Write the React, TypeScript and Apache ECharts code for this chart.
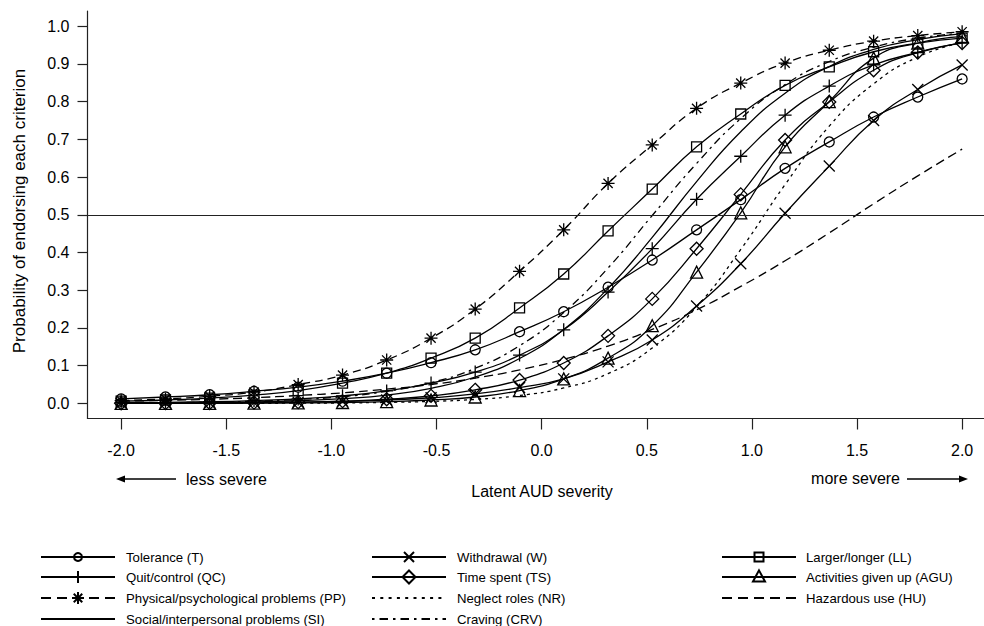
import React, { useEffect, useRef } from "react";
import * as echarts from "echarts";

// ---------- data ----------
const xs = [-2.0, -1.789, -1.579, -1.368, -1.158, -0.947, -0.737, -0.526, -0.316, -0.105, 0.105, 0.316, 0.526, 0.737, 0.947, 1.158, 1.368, 1.579, 1.789, 2.0];
const xTicks = [-2, -1.5, -1, -0.5, 0, 0.5, 1, 1.5, 2];
const yTicks = [0, 0.1, 0.2, 0.3, 0.4, 0.5, 0.6, 0.7, 0.8, 0.9, 1.0];

const tolerance = [0.012, 0.017, 0.023, 0.032, 0.043, 0.059, 0.08, 0.108, 0.142, 0.19, 0.243, 0.308, 0.38, 0.46, 0.54, 0.623, 0.693, 0.759, 0.812, 0.86];
const withdrawal = [0.0005, 0.001, 0.001, 0.002, 0.003, 0.005, 0.009, 0.015, 0.025, 0.042, 0.065, 0.11, 0.168, 0.258, 0.37, 0.504, 0.629, 0.75, 0.832, 0.897];
const largerLonger = [0.006, 0.009, 0.014, 0.022, 0.034, 0.054, 0.08, 0.12, 0.173, 0.253, 0.343, 0.457, 0.568, 0.68, 0.767, 0.843, 0.892, 0.932, 0.955, 0.968];
const quitControl = [0.002, 0.003, 0.0045, 0.0075, 0.012, 0.02, 0.033, 0.054, 0.083, 0.128, 0.195, 0.295, 0.41, 0.541, 0.655, 0.764, 0.841, 0.897, 0.93, 0.957];
const timeSpent = [0.0003, 0.0006, 0.001, 0.002, 0.0034, 0.006, 0.011, 0.02, 0.036, 0.062, 0.107, 0.179, 0.277, 0.41, 0.554, 0.698, 0.799, 0.883, 0.93, 0.955];
const activitiesGivenUp = [0.0001, 0.0002, 0.0003, 0.0006, 0.0012, 0.0024, 0.0047, 0.009, 0.017, 0.034, 0.065, 0.12, 0.206, 0.348, 0.505, 0.68, 0.8, 0.915, 0.955, 0.972];
const physPsych = [0.0075, 0.012, 0.019, 0.03, 0.05, 0.075, 0.115, 0.173, 0.25, 0.35, 0.46, 0.583, 0.685, 0.782, 0.849, 0.902, 0.936, 0.96, 0.975, 0.985];
const neglectRoles = [0.00004, 0.0001, 0.0002, 0.0003, 0.0007, 0.0013, 0.0027, 0.0053, 0.0106, 0.021, 0.041, 0.079, 0.147, 0.256, 0.408, 0.58, 0.735, 0.847, 0.918, 0.957];
const hazardousUse = [0.006, 0.008, 0.011, 0.015, 0.021, 0.028, 0.038, 0.05, 0.067, 0.089, 0.117, 0.152, 0.196, 0.248, 0.31, 0.378, 0.452, 0.529, 0.603, 0.674];
const socialInterpersonal = [0.0007, 0.0012, 0.0022, 0.0039, 0.007, 0.0126, 0.022, 0.04, 0.07, 0.119, 0.196, 0.305, 0.44, 0.588, 0.72, 0.822, 0.893, 0.938, 0.964, 0.98];
const craving = [0.0011, 0.0019, 0.0034, 0.0059, 0.0104, 0.018, 0.032, 0.055, 0.093, 0.153, 0.241, 0.359, 0.498, 0.636, 0.755, 0.845, 0.906, 0.944, 0.968, 0.981];

const FONT = "'Liberation Sans', Arial, Helvetica, sans-serif";
const BLACK = "#000";

const PLUS = "path://M5,0L5,10M0,5L10,5";
const CROSS = "path://M0,0L10,10M10,0L0,10";
const ASTER = "path://M5,0L5,10M0,5L10,5M1.46,1.46L8.54,8.54M8.54,1.46L1.46,8.54";

const DASH_PP = [8, 5];
const DASH_HU = [9, 5];
const DOT_NR = [3, 4];
const DASHDOT_CRV = [2.5, 4.5, 8, 4.5];

type Kind = "circle" | "plus" | "aster" | "cross" | "diamond" | "square" | "triangle" | null;

function lineSeries(name: string, vals: number[], symbol: string | null, size: number, dash: any, extra: any = {}) {
  return {
    name,
    type: "line",
    data: xs.map((x, i) => [x, vals[i]]),
    smooth: 0.5,
    symbol: symbol ?? "none",
    showSymbol: !!symbol,
    symbolSize: size,
    lineStyle: { color: BLACK, width: 1.3, type: dash },
    itemStyle: { color: "rgba(0,0,0,0)", borderColor: BLACK, borderWidth: 1.3 },
    emphasis: { disabled: true },
    silent: true,
    z: 3,
    ...extra,
  };
}

function marker(kind: Kind, cx: number, cy: number, s: number, lw: number): any[] {
  const st = { stroke: BLACK, lineWidth: lw, fill: "none" };
  const L = (x1: number, y1: number, x2: number, y2: number) => ({ type: "line", shape: { x1, y1, x2, y2 }, style: st });
  const h = s / 2;
  switch (kind) {
    case "circle":
      return [{ type: "circle", shape: { cx, cy, r: h }, style: st }];
    case "plus":
      return [L(cx - h, cy, cx + h, cy), L(cx, cy - h, cx, cy + h)];
    case "cross":
      return [L(cx - h, cy - h, cx + h, cy + h), L(cx + h, cy - h, cx - h, cy + h)];
    case "aster": {
      const d = h * 0.707;
      return [L(cx - h, cy, cx + h, cy), L(cx, cy - h, cx, cy + h), L(cx - d, cy - d, cx + d, cy + d), L(cx + d, cy - d, cx - d, cy + d)];
    }
    case "diamond":
      return [{ type: "polygon", shape: { points: [[cx, cy - h], [cx + h, cy], [cx, cy + h], [cx - h, cy]] }, style: st }];
    case "square":
      return [{ type: "rect", shape: { x: cx - h, y: cy - h, width: s, height: s }, style: st }];
    case "triangle":
      return [{ type: "polygon", shape: { points: [[cx, cy - s * 0.55], [cx + h, cy + s * 0.38], [cx - h, cy + s * 0.38]] }, style: st }];
    default:
      return [];
  }
}

function txt(text: string, x: number, y: number, size: number, align: string, extra: any = {}) {
  return {
    type: "text",
    x,
    y,
    ...extra,
    style: {
      text,
      fontSize: size,
      fontFamily: FONT,
      fill: BLACK,
      textAlign: align,
      textVerticalAlign: "middle",
      align,
      verticalAlign: "middle",
    },
  };
}

const legendCols = [
  { lineX: 41, textX: 126 },
  { lineX: 372, textX: 457 },
  { lineX: 722, textX: 806 },
];
const legendRows = [557, 577, 598, 619];

const legendItems: { col: number; row: number; label: string; kind: Kind; size: number; dash: number[] | null }[] = [
  { col: 0, row: 0, label: "Tolerance (T)", kind: "circle", size: 8, dash: null },
  { col: 0, row: 1, label: "Quit/control (QC)", kind: "plus", size: 12, dash: null },
  { col: 0, row: 2, label: "Physical/psychological problems (PP)", kind: "aster", size: 12, dash: [10, 6] },
  { col: 0, row: 3, label: "Social/interpersonal problems (SI)", kind: null, size: 0, dash: null },
  { col: 1, row: 0, label: "Withdrawal (W)", kind: "cross", size: 10, dash: null },
  { col: 1, row: 1, label: "Time spent (TS)", kind: "diamond", size: 13, dash: null },
  { col: 1, row: 2, label: "Neglect roles (NR)", kind: null, size: 0, dash: [3, 5.3] },
  { col: 1, row: 3, label: "Craving (CRV)", kind: null, size: 0, dash: [2.5, 5, 8.5, 5] },
  { col: 2, row: 0, label: "Larger/longer (LL)", kind: "square", size: 9, dash: null },
  { col: 2, row: 1, label: "Activities given up (AGU)", kind: "triangle", size: 12, dash: null },
  { col: 2, row: 2, label: "Hazardous use (HU)", kind: null, size: 0, dash: [10, 6] },
];

function buildGraphic(): any[] {
  const els: any[] = [];
  legendItems.forEach((it) => {
    const c = legendCols[it.col];
    const y = legendRows[it.row];
    els.push({
      type: "line",
      shape: { x1: c.lineX, y1: y, x2: c.lineX + 74, y2: y },
      style: { stroke: BLACK, lineWidth: 2, lineDash: it.dash ?? undefined },
    });
    els.push(...marker(it.kind, c.lineX + 37, y, it.size, 2));
    els.push(txt(it.label, c.textX, y, 13.2, "left"));
  });
  // severity arrows and notes
  const ay = 479;
  els.push({ type: "line", shape: { x1: 122, y1: ay, x2: 176, y2: ay }, style: { stroke: BLACK, lineWidth: 1.5 } });
  els.push({ type: "polygon", shape: { points: [[116, ay], [125, ay - 3.5], [125, ay + 3.5]] }, style: { fill: BLACK } });
  els.push(txt("less severe", 186, ay, 16, "left"));
  els.push({ type: "line", shape: { x1: 907, y1: ay, x2: 962, y2: ay }, style: { stroke: BLACK, lineWidth: 1.5 } });
  els.push({ type: "polygon", shape: { points: [[968, ay], [959, ay - 3.5], [959, ay + 3.5]] }, style: { fill: BLACK } });
  els.push(txt("more severe", 900, ay - 1, 16, "right"));
  // axis titles
  els.push(txt("Latent AUD severity", 542, 491, 16, "center"));
  els.push(txt("Probability of endorsing each criterion", 19, 211, 17, "center", { rotation: Math.PI / 2 }));
  return els;
}

export default function App() {
  const ref = useRef<HTMLDivElement>(null);

  useEffect(() => {
    if (!ref.current) return;
    const chart = echarts.init(ref.current, null, { renderer: "svg" });
    const axisColor = "#222";
    const option: any = {
      animation: false,
      backgroundColor: "#fff",
      grid: { left: 87.5, top: 11, right: 0, height: 407.5, containLabel: false },
      xAxis: {
        type: "value",
        min: -2.16,
        max: 2.104,
        axisLine: { show: true, onZero: false, lineStyle: { color: axisColor, width: 1.2 } },
        axisTick: { show: true, length: 11, customValues: xTicks, lineStyle: { color: axisColor, width: 1.2 } },
        axisLabel: {
          customValues: xTicks,
          formatter: (v: number) => v.toFixed(1),
          margin: 24,
          fontSize: 16,
          color: BLACK,
          fontFamily: FONT,
        },
        splitLine: { show: false },
      },
      yAxis: {
        type: "value",
        min: -0.04,
        max: 1.04,
        axisLine: { show: true, onZero: false, lineStyle: { color: axisColor, width: 1.2 } },
        axisTick: { show: true, length: 10, customValues: yTicks, lineStyle: { color: axisColor, width: 1.2 } },
        axisLabel: {
          customValues: yTicks,
          formatter: (v: number) => v.toFixed(1),
          margin: 18,
          fontSize: 16,
          color: BLACK,
          fontFamily: FONT,
        },
        splitLine: { show: false },
      },
      series: [
        lineSeries("Tolerance (T)", tolerance, "circle", 10, "solid", {
          markLine: {
            silent: true,
            symbol: ["none", "none"],
            label: { show: false },
            lineStyle: { color: axisColor, width: 1.1, type: "solid" },
            data: [{ yAxis: 0.5 }],
          },
        }),
        lineSeries("Withdrawal (W)", withdrawal, CROSS, 11, "solid"),
        lineSeries("Larger/longer (LL)", largerLonger, "rect", 10, "solid"),
        lineSeries("Quit/control (QC)", quitControl, PLUS, 13, "solid"),
        lineSeries("Time spent (TS)", timeSpent, "diamond", 13, "solid"),
        lineSeries("Activities given up (AGU)", activitiesGivenUp, "triangle", 12, "solid"),
        lineSeries("Physical/psychological problems (PP)", physPsych, ASTER, 13, DASH_PP),
        lineSeries("Neglect roles (NR)", neglectRoles, null, 0, DOT_NR),
        lineSeries("Hazardous use (HU)", hazardousUse, null, 0, DASH_HU),
        lineSeries("Social/interpersonal problems (SI)", socialInterpersonal, null, 0, "solid"),
        lineSeries("Craving (CRV)", craving, null, 0, DASHDOT_CRV),
      ],
      graphic: buildGraphic(),
    };
    chart.setOption(option);
    return () => chart.dispose();
  }, []);

  return (
    <div
      ref={ref}
      style={{ position: "fixed", left: 0, top: 0, width: 984, height: 626, background: "#fff" }}
    />
  );
}
